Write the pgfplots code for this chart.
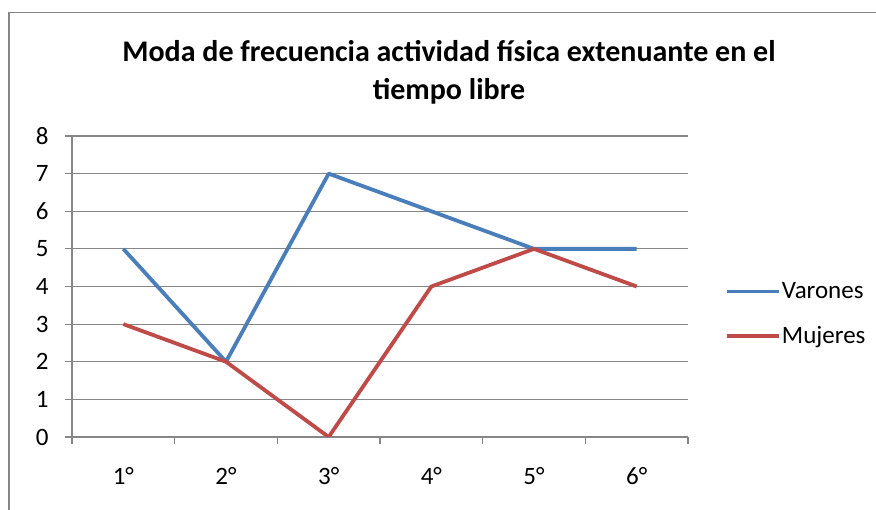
\documentclass[border=0pt]{standalone}
\usepackage{fontspec}
\setmainfont{Carlito}
\usepackage{pgfplots}
\pgfplotsset{compat=1.18}
\definecolor{vblue}{HTML}{4A7EBB}
\definecolor{mred}{HTML}{BE4B48}
\definecolor{gframe}{HTML}{868686}
\begin{document}
\begin{tikzpicture}[x=1pt,y=1pt]
\useasboundingbox (0,0) rectangle (876,510);
\draw[gframe, line width=1.5pt] (8.75,0) -- (8.75,497.25) -- (880,497.25);
\node[font=\fontsize{30}{38}\selectfont\bfseries, align=center] at (449,438) {Moda de frecuencia actividad física extenuante en el\\tiempo libre};
\begin{axis}[
  at={(72pt,73pt)}, anchor=south west,
  scale only axis, width=616pt, height=301pt,
  xmin=-0.5, xmax=5.5, ymin=0, ymax=8,
  ytick={0,...,8},
  xtick={0,...,5},
  xticklabels={1°,2°,3°,4°,5°,6°},
  minor xtick={-0.5,0.5,...,5.5},
  axis x line*=bottom, axis y line*=left,
  axis line style={gframe, line width=1.2pt},
  ymajorgrids, major grid style={gframe, line width=1.2pt},
  tick align=outside,
  major tick length=7pt, minor tick length=7pt,
  every major x tick/.append style={draw=none},
  every major y tick/.append style={gframe, line width=1.2pt},
  every minor x tick/.append style={gframe, line width=1.2pt},
  ticklabel style={font=\fontsize{25}{30}\selectfont},
  yticklabel style={xshift=-13pt},
  xticklabel style={yshift=-20pt},
  /pgf/number format/assume math mode=true,
  legend style={at={(1.060,0.409)}, anchor=west, draw=none, fill=none, inner sep=0pt,
    font=\fontsize{25}{30}\selectfont, row sep=24pt, nodes={inner sep=1pt}},
  legend cell align=left,
  legend image code/.code={\draw[#1] (0pt,0pt) -- (52pt,0pt);},
]
\addplot[vblue, line width=3.8pt, line join=round] coordinates {(0,5) (1,2) (2,7) (3,6) (4,5) (5,5)};
\addlegendentry{Varones}
\addplot[mred, line width=3.8pt, line join=round] coordinates {(0,3) (1,2) (2,0) (3,4) (4,5) (5,4)};
\addlegendentry{Mujeres}
\end{axis}
\end{tikzpicture}
\end{document}
